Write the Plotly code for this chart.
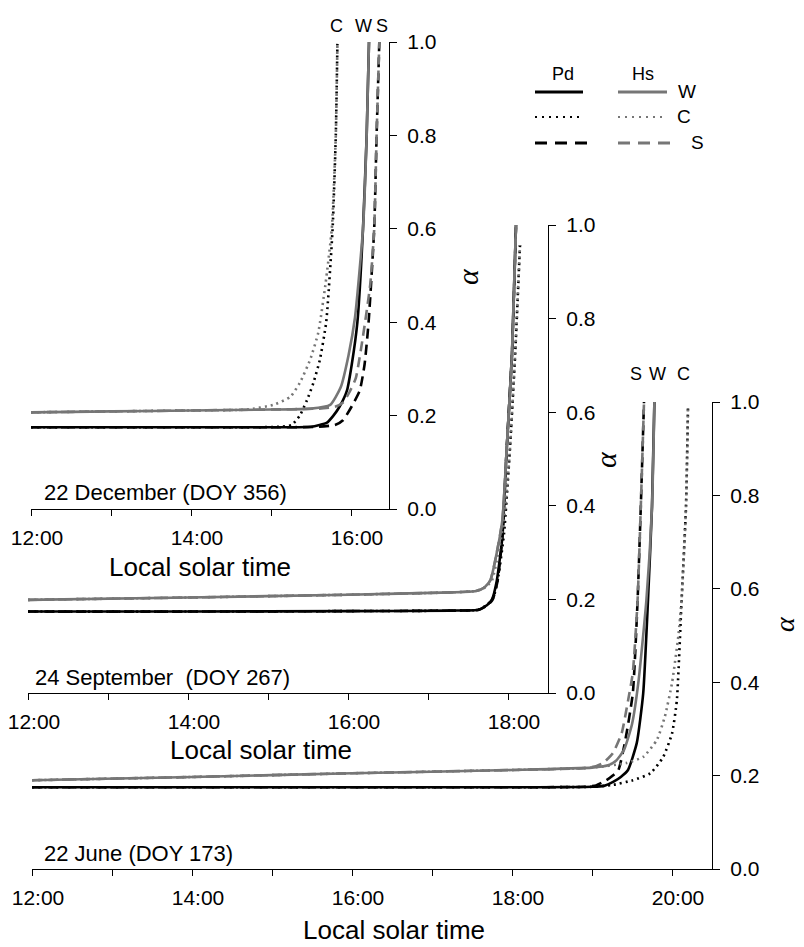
import plotly.graph_objects as go

W_PX, H_PX = 804, 947

# ---------------- data ----------------
# Panel 1: 22 December (DOY 356)
dec_pd_w_t = [12.0, 13.0, 14.0, 15.0, 15.5, 15.7, 15.78, 15.86, 15.95, 16.01, 16.08, 16.15, 16.196, 16.225]
dec_pd_w_a = [0.175, 0.175, 0.175, 0.175, 0.176, 0.185, 0.2, 0.22, 0.254, 0.31, 0.40, 0.60, 0.80, 1.0]
dec_pd_c_t = [12.0, 13.0, 14.0, 14.8, 15.1, 15.26, 15.36, 15.45, 15.53, 15.61, 15.69, 15.77, 15.81, 15.83]
dec_pd_c_a = [0.175, 0.175, 0.175, 0.175, 0.176, 0.18, 0.2, 0.233, 0.27, 0.319, 0.40, 0.60, 0.80, 0.996]
dec_pd_s_t = [12.0, 13.0, 14.0, 15.0, 15.6, 15.8, 15.9, 16.01, 16.11, 16.17, 16.22, 16.29, 16.32, 16.354]
dec_pd_s_a = [0.175, 0.175, 0.175, 0.175, 0.176, 0.18, 0.19, 0.22, 0.254, 0.31, 0.40, 0.60, 0.80, 1.0]
dec_hs_w_t = [12.0, 13.0, 14.0, 15.0, 15.5, 15.74, 15.87, 15.97, 16.05, 16.15, 16.196, 16.225]
dec_hs_w_a = [0.207, 0.209, 0.211, 0.213, 0.215, 0.223, 0.26, 0.33, 0.41, 0.60, 0.80, 1.0]
dec_hs_c_t = [12.0, 13.0, 14.0, 14.7, 15.03, 15.24, 15.36, 15.49, 15.59, 15.68, 15.76, 15.81, 15.83]
dec_hs_c_a = [0.207, 0.209, 0.211, 0.213, 0.223, 0.24, 0.27, 0.32, 0.377, 0.48, 0.60, 0.80, 0.996]
dec_hs_s_t = [12.0, 13.0, 14.0, 15.0, 15.6, 15.8, 15.9, 15.98, 16.06, 16.15, 16.24, 16.29, 16.32, 16.354]
dec_hs_s_a = [0.207, 0.209, 0.211, 0.213, 0.215, 0.219, 0.228, 0.25, 0.28, 0.37, 0.48, 0.60, 0.80, 1.0]

# Panel 2: 24 September (DOY 267)
sep_pd_w_t = [12.0, 14.0, 16.0, 17.3, 17.63, 17.74, 17.8, 17.86, 17.93, 17.98, 18.05, 18.1]
sep_pd_w_a = [0.174, 0.174, 0.175, 0.176, 0.178, 0.188, 0.2, 0.24, 0.334, 0.51, 0.726, 1.0]
sep_pd_c_t = [12.0, 14.0, 16.0, 17.3, 17.63, 17.75, 17.82, 17.88, 17.95, 18.02, 18.09, 18.15]
sep_pd_c_a = [0.174, 0.174, 0.175, 0.176, 0.178, 0.19, 0.205, 0.25, 0.34, 0.51, 0.726, 0.957]
sep_pd_s_t = [12.0, 14.0, 16.0, 17.3, 17.64, 17.75, 17.81, 17.87, 17.93, 17.98, 18.05, 18.1]
sep_pd_s_a = [0.174, 0.174, 0.175, 0.176, 0.178, 0.188, 0.2, 0.24, 0.334, 0.51, 0.726, 1.0]
sep_hs_w_t = [12.0, 14.0, 16.0, 17.3, 17.6, 17.7, 17.78, 17.86, 17.93, 17.98, 18.05, 18.1]
sep_hs_w_a = [0.199, 0.204, 0.21, 0.215, 0.218, 0.225, 0.241, 0.3, 0.37, 0.51, 0.726, 1.0]
sep_hs_c_t = [12.0, 14.0, 16.0, 17.3, 17.6, 17.71, 17.8, 17.88, 17.95, 18.02, 18.09, 18.15]
sep_hs_c_a = [0.199, 0.204, 0.21, 0.215, 0.218, 0.225, 0.241, 0.3, 0.37, 0.51, 0.726, 0.957]
sep_hs_s_t = [12.0, 14.0, 16.0, 17.3, 17.6, 17.7, 17.78, 17.86, 17.93, 17.98, 18.05, 18.1]
sep_hs_s_a = [0.199, 0.204, 0.21, 0.215, 0.218, 0.225, 0.241, 0.3, 0.37, 0.51, 0.726, 1.0]

# Panel 3: 22 June (DOY 173)
jun_pd_w_t = [12.0, 14.0, 16.0, 18.0, 19.0, 19.15, 19.27, 19.36, 19.45, 19.56, 19.64, 19.70, 19.75, 19.78]
jun_pd_w_a = [0.175, 0.175, 0.175, 0.175, 0.176, 0.178, 0.187, 0.197, 0.212, 0.27, 0.376, 0.576, 0.776, 1.0]
jun_pd_c_t = [12.0, 14.0, 16.0, 18.0, 19.0, 19.26, 19.51, 19.73, 19.89, 20.0, 20.06, 20.12, 20.175, 20.2]
jun_pd_c_a = [0.175, 0.175, 0.175, 0.175, 0.176, 0.18, 0.19, 0.205, 0.24, 0.29, 0.36, 0.576, 0.776, 0.99]
jun_pd_s_t = [12.0, 14.0, 16.0, 18.0, 18.9, 19.05, 19.18, 19.26, 19.33, 19.41, 19.51, 19.57, 19.61, 19.65]
jun_pd_s_a = [0.175, 0.175, 0.175, 0.175, 0.176, 0.179, 0.19, 0.2, 0.212, 0.27, 0.376, 0.576, 0.776, 1.0]
jun_hs_w_t = [12.0, 14.0, 16.0, 18.0, 19.0, 19.2, 19.3, 19.4, 19.5, 19.58, 19.68, 19.75, 19.78]
jun_hs_w_a = [0.19, 0.197, 0.205, 0.212, 0.217, 0.222, 0.232, 0.255, 0.31, 0.40, 0.576, 0.776, 1.0]
jun_hs_c_t = [12.0, 14.0, 16.0, 18.0, 19.0, 19.43, 19.64, 19.81, 19.91, 20.0, 20.08, 20.12, 20.175, 20.2]
jun_hs_c_a = [0.19, 0.197, 0.205, 0.212, 0.217, 0.227, 0.24, 0.276, 0.326, 0.398, 0.5, 0.576, 0.776, 0.99]
jun_hs_s_t = [12.0, 14.0, 16.0, 18.0, 18.9, 19.05, 19.14, 19.26, 19.37, 19.45, 19.51, 19.57, 19.61, 19.65]
jun_hs_s_a = [0.19, 0.197, 0.205, 0.212, 0.216, 0.22, 0.227, 0.248, 0.29, 0.36, 0.42, 0.576, 0.776, 1.0]

x_tick_vals = [12, 13, 14, 15, 16, 17, 18, 19, 20]
x_tick_text = ["12:00", "", "14:00", "", "16:00", "", "18:00", "", "20:00"]
y_tick_vals = [0.0, 0.2, 0.4, 0.6, 0.8, 1.0]
y_tick_text = ["0.0", "0.2", "0.4", "0.6", "0.8", "1.0"]
date_labels = ["22 December (DOY 356)", "24 September  (DOY 267)", "22 June (DOY 173)"]
panel_x_max = [16.475, 18.5, 20.5]

# ---------------- styles ----------------
BLACK = "#000000"
GRAY = "#767676"
FONT = "Liberation Sans, Arial, sans-serif"
DOT = "2px,4px"
DASH = "10px,6px"

def px(x):
    return x / W_PX

def py(y):
    return 1 - y / H_PX

fig = go.Figure()

panels = [
    ("x", "y", [
        (dec_pd_w_t, dec_pd_w_a, BLACK, "solid"),
        (dec_pd_c_t, dec_pd_c_a, BLACK, DOT),
        (dec_pd_s_t, dec_pd_s_a, BLACK, DASH),
        (dec_hs_w_t, dec_hs_w_a, GRAY, "solid"),
        (dec_hs_c_t, dec_hs_c_a, GRAY, DOT),
        (dec_hs_s_t, dec_hs_s_a, GRAY, DASH),
    ]),
    ("x2", "y2", [
        (sep_pd_w_t, sep_pd_w_a, BLACK, "solid"),
        (sep_pd_c_t, sep_pd_c_a, BLACK, DOT),
        (sep_pd_s_t, sep_pd_s_a, BLACK, DASH),
        (sep_hs_w_t, sep_hs_w_a, GRAY, "solid"),
        (sep_hs_c_t, sep_hs_c_a, GRAY, DOT),
        (sep_hs_s_t, sep_hs_s_a, GRAY, DASH),
    ]),
    ("x3", "y3", [
        (jun_pd_w_t, jun_pd_w_a, BLACK, "solid"),
        (jun_pd_c_t, jun_pd_c_a, BLACK, DOT),
        (jun_pd_s_t, jun_pd_s_a, BLACK, DASH),
        (jun_hs_w_t, jun_hs_w_a, GRAY, "solid"),
        (jun_hs_c_t, jun_hs_c_a, GRAY, DOT),
        (jun_hs_s_t, jun_hs_s_a, GRAY, DASH),
    ]),
]

for xa, ya, series in panels:
    for t, a, col, dash in series:
        fig.add_trace(go.Scatter(
            x=t, y=a, xaxis=xa, yaxis=ya, mode="lines",
            line=dict(color=col, width=2.6, dash=dash, shape="spline", smoothing=0.5),
            showlegend=False, hoverinfo="skip"))

# panel geometry in pixels: (x_left, x_right, y_top, y_bottom)
geom = [(31, 389, 42, 509), (28, 548, 225, 693), (32, 712, 402, 869)]

layout = dict(
    width=W_PX, height=H_PX, autosize=False,
    margin=dict(l=0, r=0, t=0, b=0, pad=0, autoexpand=False),
    paper_bgcolor="white", plot_bgcolor="rgba(0,0,0,0)",
    showlegend=False, font=dict(family=FONT, color="black", size=21),
)

for i, (x0, x1, y0, y1) in enumerate(geom):
    n = "" if i == 0 else str(i + 1)
    layout["xaxis" + n] = dict(
        domain=[px(x0), px(x1)], range=[12, panel_x_max[i]], anchor="y" + n,
        automargin=False,
        showline=True, linecolor="black", linewidth=1.3,
        ticks="outside", ticklen=6, tickwidth=1.3, tickcolor="black",
        tickvals=[v for v in x_tick_vals if v <= panel_x_max[i]],
        ticktext=[s for v, s in zip(x_tick_vals, x_tick_text) if v <= panel_x_max[i]],
        tickfont=dict(size=21, family=FONT, color="black"),
        ticklabelshift=6, ticklabelstandoff=4,
        showgrid=False, zeroline=False, fixedrange=True)
    layout["yaxis" + n] = dict(
        domain=[py(y1), py(y0)], range=[0, 1], anchor="x" + n, side="right",
        automargin=False,
        showline=True, linecolor="black", linewidth=1.3,
        ticks="outside", ticklen=7, tickwidth=1.3, tickcolor="black",
        tickvals=y_tick_vals, ticktext=y_tick_text,
        tickfont=dict(size=21, family=FONT, color="black"),
        ticklabelstandoff=6,
        showgrid=False, zeroline=False, fixedrange=True)

fig.update_layout(**layout)

ann = []

def text(x, y, s, size, xanchor="center", yanchor="middle", angle=0, family=FONT):
    ann.append(dict(x=px(x), y=py(y), xref="paper", yref="paper", text=s, showarrow=False,
                    xanchor=xanchor, yanchor=yanchor, textangle=angle,
                    font=dict(size=size, family=family, color="black")))

# date labels
text(42, 492, date_labels[0], 22, xanchor="left")
text(33, 677, date_labels[1], 22, xanchor="left")
text(42, 853, date_labels[2], 22, xanchor="left")

# x-axis titles
text(200, 567, "Local solar time", 26)
text(261, 750, "Local solar time", 26)
text(394, 930, "Local solar time", 26)

# y-axis titles (alpha)
SERIF = "Liberation Serif, Times New Roman, serif"
text(467, 277, "<i>α</i>", 30, angle=-90, family=SERIF)
text(606, 460, "<i>α</i>", 30, angle=-90, family=SERIF)
text(784, 624, "<i>α</i>", 28, angle=-90, family=SERIF)

# curve labels
text(336, 26, "C", 18)
text(363, 26, "W", 18)
text(382, 26, "S", 18)
text(636, 374, "S", 18)
text(657, 374, "W", 18)
text(683, 374, "C", 18)

# legend
text(563, 74, "Pd", 18)
text(643, 74, "Hs", 18)
text(687, 92, "W", 19)
text(684, 117, "C", 19)
text(697, 143, "S", 19)

fig.update_layout(annotations=ann)

shapes = []
def seg(x0, x1, y, col, dash, w=2.6):
    shapes.append(dict(type="line", xref="paper", yref="paper",
                       x0=px(x0), x1=px(x1), y0=py(y), y1=py(y),
                       line=dict(color=col, width=w, dash=dash)))

seg(535, 583, 92, BLACK, "solid", 3)
seg(618, 667, 92, GRAY, "solid", 3)
seg(535, 579, 117, BLACK, "2px,5px", 2.2)
seg(618, 663, 117, GRAY, "2px,5px", 2.2)
seg(535, 587, 143, BLACK, "12px,8px", 3)
seg(618, 671, 143, GRAY, "12px,8px", 3)
fig.update_layout(shapes=shapes)

fig.write_html(
    "out.html",
    post_script="document.body.style.margin='0';document.body.style.padding='0';"
                "document.documentElement.style.overflow='hidden';",
)
